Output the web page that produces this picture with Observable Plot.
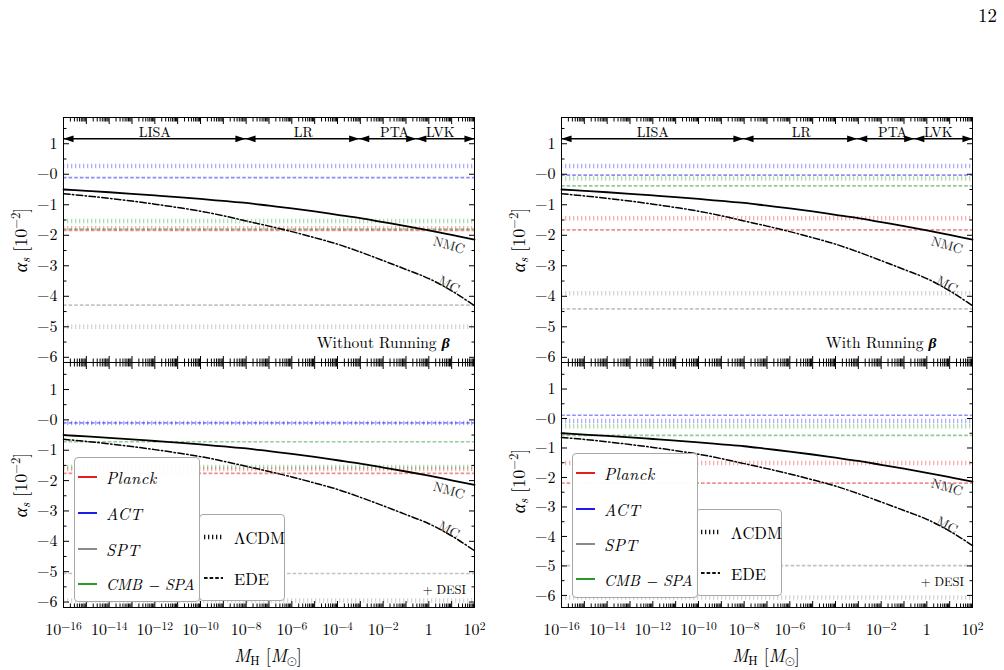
<!DOCTYPE html>
<html>
<head>
<meta charset="utf-8">
<script src="https://cdn.jsdelivr.net/npm/d3@7"></script>
<script src="https://cdn.jsdelivr.net/npm/@observablehq/plot@0.6"></script>
<style>
  html, body { margin: 0; padding: 0; background: #fff; }
  #fig { position: relative; width: 1004px; height: 670px; overflow: hidden; background: #fff;
         font-family: "Latin Modern Roman", "Latin Modern Math", "Liberation Serif", serif; color: #000; }
  #fig svg { position: absolute; overflow: visible; }
  #fig svg text { font-family: "Latin Modern Roman", "Latin Modern Math", "Liberation Serif", serif !important; }
  .txt { position: absolute; white-space: nowrap; line-height: 1; }
  .rot { transform: translate(-50%, -50%) rotate(-90deg); }
  .ctr { transform: translate(-50%, -50%); }
  .box { position: absolute; box-sizing: border-box; border: 1px solid #a8a8a8; border-radius: 4px;
         background: rgba(255,255,255,0.95); }
  .entry { position: absolute; height: 20px; display: flex; align-items: center; white-space: nowrap; }
  sub, sup { line-height: 0; }
</style>
</head>
<body>
<div id="fig"></div>
<script>
// log10 of the horizon mass M_H / M_sun
const logMass = [-16,-15,-14,-13,-12,-11,-10,-9,-8,-7,-6,-5,-4,-3,-2,-1,0,1,2];
// running alpha_s (units of 1e-2) for non-minimal and minimal coupling
const nmcAlpha = [-0.50,-0.545,-0.59,-0.64,-0.695,-0.75,-0.81,-0.875,-0.94,-1.03,-1.12,-1.22,-1.33,-1.44,-1.57,-1.70,-1.84,-1.99,-2.14];
const mcAlpha  = [-0.64,-0.71,-0.79,-0.88,-0.98,-1.09,-1.21,-1.36,-1.53,-1.70,-1.88,-2.08,-2.29,-2.55,-2.83,-3.12,-3.42,-3.82,-4.31];
const curveTags = ["NMC", "MC"];
const curveTagLogM = [0.88, 0.88];
const curveTagAlpha = [-2.33, -3.62];
const curveTagAngle = [16, 28];

// CMB constraints on alpha_s (units of 1e-2), order follows `surveys`
const surveys = ["Planck", "ACT", "SPT", "CMB − SPA"];
const surveyColors = ["#e0201c", "#1c1cee", "#8a8a8a", "#2a9a2a"];
const noRunLcdm     = [-1.77,  0.27, -5.00, -1.53];
const noRunEde      = [-1.84, -0.11, -4.29, -1.80];
const runLcdm       = [-1.44,  0.27, -3.90, -0.14];
const runEde        = [-1.82, -0.03, -4.41, -0.38];
const noRunDesiLcdm = [-1.62, -0.10, -5.95, -1.55];
const noRunDesiEde  = [-1.76, -0.10, -5.06, -0.72];
const runDesiLcdm   = [-1.51, -0.08, -6.07, -0.26];
const runDesiEde    = [-2.19,  0.11, -4.99, -0.57];

// detector sensitivity bands (log10 M_H edges) shown as arrows
const bandNames = ["LISA", "LR", "PTA", "LVK"];
const bandEdges = [-16, -8.03, -3.05, -0.55, 2];
const bandLabelLogM = [-12, -5.5, -1.5, 0.5];
const arrowLevel = 1.16;

// axis ticks
const xLabelExp = [-16,-14,-12,-10,-8,-6,-4,-2,0,2];
const xMajorExp = [-16,-15,-14,-13,-12,-11,-10,-9,-8,-7,-6,-5,-4,-3,-2,-1,0,1,2];
const yMajor = [-6,-5,-4,-3,-2,-1,0,1];
const yMinor = [-5.5,-4.5,-3.5,-2.5,-1.5,-0.5,0.5,1.5];

const fig = document.getElementById("fig");
const FW = 411, FH = 245;
const SERIF = '"Latin Modern Roman", "Latin Modern Math", "Liberation Serif", serif';

const xMajor = xMajorExp.map(e => 10 ** e);
const xMinor = xMajorExp.slice(0, -1).flatMap(e => [2,3,4,5,6,7,8,9].map(k => k * 10 ** e));
const fmtY = v => v === 0 ? "−0" : v > 0 ? String(v) : "−" + Math.abs(v);
const fmtX = v => { const e = Math.round(Math.log10(v)); return e === 0 ? "1" : "10^" + e; };

// filled arrowheads with the tip on the anchor point
const headRight = { draw(ctx, size) { const r = Math.sqrt(size / Math.PI), L = 1.8 * r, w = 0.62 * r;
  ctx.moveTo(0, 0); ctx.lineTo(-L, -w); ctx.lineTo(-L, w); ctx.closePath(); } };
const headLeft = { draw(ctx, size) { const r = Math.sqrt(size / Math.PI), L = 1.8 * r, w = 0.62 * r;
  ctx.moveTo(0, 0); ctx.lineTo(L, -w); ctx.lineTo(L, w); ctx.closePath(); } };

function panel(cfg) {
  const mL = 60, mR = 14, mT = 8, mB = cfg.xLabels ? 40 : 8;
  const rows = surveys.map((s, i) => ({ color: surveyColors[i], lcdm: cfg.lcdm[i], ede: cfg.ede[i] }));
  const curve = logMass.map((L, i) => ({ m: 10 ** L, nmc: nmcAlpha[i], mc: mcAlpha[i] }));
  const marks = [
    Plot.ruleY(rows, { y: "lcdm", stroke: "color", strokeWidth: 4.5, strokeDasharray: "1.3,2.7", strokeOpacity: 0.36 }),
    Plot.ruleY(rows, { y: "ede", stroke: "color", strokeWidth: 1.7, strokeDasharray: "3.6,2", strokeOpacity: 0.5 }),
    Plot.line(curve, { x: "m", y: "nmc", stroke: "#000", strokeWidth: 1.8, curve: "monotone-x" }),
    Plot.line(curve, { x: "m", y: "mc", stroke: "#000", strokeWidth: 1.5, strokeDasharray: "6.5,2.4,1.5,2.4", curve: "monotone-x" })
  ];
  curveTags.forEach((t, i) => marks.push(
    Plot.text([t], { x: 10 ** curveTagLogM[i], y: curveTagAlpha[i], text: d => d, rotate: curveTagAngle[i],
                     fill: "#222", fontSize: 13.5, fontFamily: SERIF })));
  if (cfg.arrows) {
    marks.push(
      Plot.ruleY(bandNames, { y: arrowLevel, x1: (d, i) => 10 ** bandEdges[i], x2: (d, i) => 10 ** bandEdges[i + 1],
                              stroke: "#000", strokeWidth: 1.5 }),
      Plot.dot(bandNames, { x: (d, i) => 10 ** bandEdges[i], y: arrowLevel, symbol: headLeft, r: 5.6, fill: "#000", stroke: "none" }),
      Plot.dot(bandNames, { x: (d, i) => 10 ** bandEdges[i + 1], y: arrowLevel, symbol: headRight, r: 5.6, fill: "#000", stroke: "none" }),
      Plot.text(bandNames, { x: (d, i) => 10 ** bandLabelLogM[i], y: arrowLevel, text: d => d, dy: -6.5, fontSize: 14, fontFamily: SERIF })
    );
  }
  if (cfg.note) marks.push(Plot.text([cfg.note], { x: 1e-2, y: -5.53, text: d => d, fontSize: 15.5, fontFamily: SERIF }));
  if (cfg.desi) marks.push(Plot.text(["+ DESI"], { x: 10 ** 1.63, y: cfg.desi, text: d => d, textAnchor: "end", fontSize: 12.5, fontFamily: SERIF }));
  marks.push(
    Plot.axisX({ anchor: "bottom", ticks: xMajor, tickSize: 6, dy: -6, tickFormat: () => "", label: null }),
    Plot.axisX({ anchor: "bottom", ticks: xMinor, tickSize: 3.5, dy: -3.5, tickFormat: () => "", label: null }),
    Plot.axisX({ anchor: "top", ticks: xMajor, tickSize: 6, dy: 6, tickFormat: () => "", label: null }),
    Plot.axisX({ anchor: "top", ticks: xMinor, tickSize: 3.5, dy: 3.5, tickFormat: () => "", label: null }),
    Plot.axisY({ anchor: "left", ticks: yMajor, tickSize: 6, dx: 6, tickFormat: () => "", label: null }),
    Plot.axisY({ anchor: "left", ticks: yMinor, tickSize: 3.5, dx: 3.5, tickFormat: () => "", label: null }),
    Plot.axisY({ anchor: "right", ticks: yMajor, tickSize: 6, dx: -6, tickFormat: () => "", label: null }),
    Plot.axisY({ anchor: "right", ticks: yMinor, tickSize: 3.5, dx: -3.5, tickFormat: () => "", label: null }),
    Plot.axisY({ anchor: "left", ticks: yMajor, tickSize: 0, tickPadding: 6, tickFormat: fmtY, fontSize: 16, fontFamily: SERIF, label: null })
  );
  if (cfg.xLabels) marks.push(
    Plot.axisX({ anchor: "bottom", ticks: xLabelExp.map(e => 10 ** e), tickSize: 0, tickPadding: 16, tickFormat: fmtX,
                 fontSize: 16, fontFamily: SERIF, label: null }));
  marks.push(Plot.frame({ stroke: "#000", strokeWidth: 1 }));

  const svg = Plot.plot({
    width: FW + mL + mR, height: FH + mT + mB,
    marginLeft: mL, marginRight: mR, marginTop: mT, marginBottom: mB,
    x: { type: "log", domain: [1e-16, 1e2] },
    y: { domain: cfg.yDomain },
    color: { type: "identity" },
    style: { background: "transparent", fontFamily: SERIF, fontSize: "15px", color: "#000", overflow: "visible" },
    marks
  });
  svg.style.left = (cfg.left - mL) + "px";
  svg.style.top = (cfg.top - mT) + "px";

  // superscript exponents on the mass axis and the bold-italic beta in the notes
  d3.select(svg).selectAll("text").each(function () {
    const s = this.textContent;
    const t = d3.select(this);
    if (s.includes("^")) {
      const [base, exp] = s.split("^");
      t.text(null);
      t.append("tspan").text(base);
      t.append("tspan").attr("dy", "-0.42em").attr("font-size", "0.72em").text(exp.replace("-", "−"));
    } else if (s.endsWith("β")) {
      t.text(null);
      t.append("tspan").text(s.slice(0, -1));
      t.append("tspan").attr("font-weight", "bold").attr("font-style", "italic")
        .attr("style", 'font-family: "Liberation Serif", serif !important').text("β");
    }
  });
  fig.appendChild(svg);
}

panel({ left: 63,  top: 117, yDomain: [-6.17, 1.86], lcdm: noRunLcdm, ede: noRunEde, arrows: true, note: "Without Running β" });
panel({ left: 561, top: 117, yDomain: [-6.17, 1.86], lcdm: runLcdm, ede: runEde, arrows: true, note: "With Running β" });
panel({ left: 63,  top: 362, yDomain: [-6.18, 1.89], lcdm: noRunDesiLcdm, ede: noRunDesiEde, xLabels: true, desi: -5.62 });
panel({ left: 561, top: 362, yDomain: [-6.41, 1.90], lcdm: runDesiLcdm, ede: runDesiEde, xLabels: true, desi: -5.56 });

function addText(html, css, cls) {
  const d = document.createElement("div");
  d.className = "txt " + (cls || "");
  d.innerHTML = html;
  Object.assign(d.style, css);
  fig.appendChild(d);
  return d;
}

// page number
addText("12", { right: "7px", top: "5px", fontSize: "19px" });

// axis titles
const GREEK = 'font-family:"Liberation Serif",serif';
const yTitle = `<i style='${GREEK}'>α</i><sub style="font-size:0.7em;vertical-align:-0.25em"><i>s</i></sub> [10<sup style="font-size:0.7em;vertical-align:0.5em">−2</sup>]`;
const xTitle = '<i>M</i><sub style="font-size:0.7em;vertical-align:-0.25em">H</sub> [<i>M</i><sub style="font-size:0.7em;vertical-align:-0.25em">⊙</sub>]';
[[20, 240], [518, 240], [20, 485], [518, 481]].forEach(([x, y]) =>
  addText(yTitle, { left: x + "px", top: y + "px", fontSize: "18px" }, "rot"));
[[268, 655], [766, 655]].forEach(([x, y]) =>
  addText(xTitle, { left: x + "px", top: y + "px", fontSize: "18px" }, "ctr"));

// legends: survey colours and model line styles
function swatch(color, dash, width) {
  return `<svg width="19" height="8" style="position:static;display:block"><line x1="0" x2="19" y1="4" y2="4" stroke="${color}" stroke-width="${width}" ${dash ? `stroke-dasharray="${dash}"` : ""}/></svg>`;
}
function legend(box1, box2) {
  const b2 = document.createElement("div");
  b2.className = "box";
  Object.assign(b2.style, { left: box2[0] + "px", top: box2[1] + "px", width: "86px", height: "87px", zIndex: 1 });
  const models = [["ΛCDM", "1.3,2.7", 4.5], ["EDE", "3.6,2", 2]];
  const rows2 = [21.5, 63];
  models.forEach(([name, dash, w], i) => {
    const e = document.createElement("div");
    e.className = "entry";
    Object.assign(e.style, { left: "4px", top: (rows2[i] - 10) + "px", fontSize: "16.5px" });
    e.innerHTML = swatch("#111", dash, w) + `<span style="margin-left:11px">${name}</span>`;
    b2.appendChild(e);
  });
  fig.appendChild(b2);

  const b1 = document.createElement("div");
  b1.className = "box";
  Object.assign(b1.style, { left: box1[0] + "px", top: box1[1] + "px", width: "126px", height: "145px", zIndex: 2 });
  const rows1 = [19, 55, 90.5, 125.5];
  surveys.forEach((s, i) => {
    const e = document.createElement("div");
    e.className = "entry";
    Object.assign(e.style, { left: "3px", top: (rows1[i] - 10) + "px", fontSize: i === 3 ? "15.5px" : "16.5px",
                             fontStyle: "italic", letterSpacing: i === 3 ? "0px" : "0.4px" });
    e.innerHTML = swatch(surveyColors[i], null, 2) + `<span style="margin-left:9px">${s}</span>`;
    b1.appendChild(e);
  });
  fig.appendChild(b1);
}
legend([74, 457], [199, 514]);
legend([572, 452.5], [696, 509]);
</script>
</body>
</html>
